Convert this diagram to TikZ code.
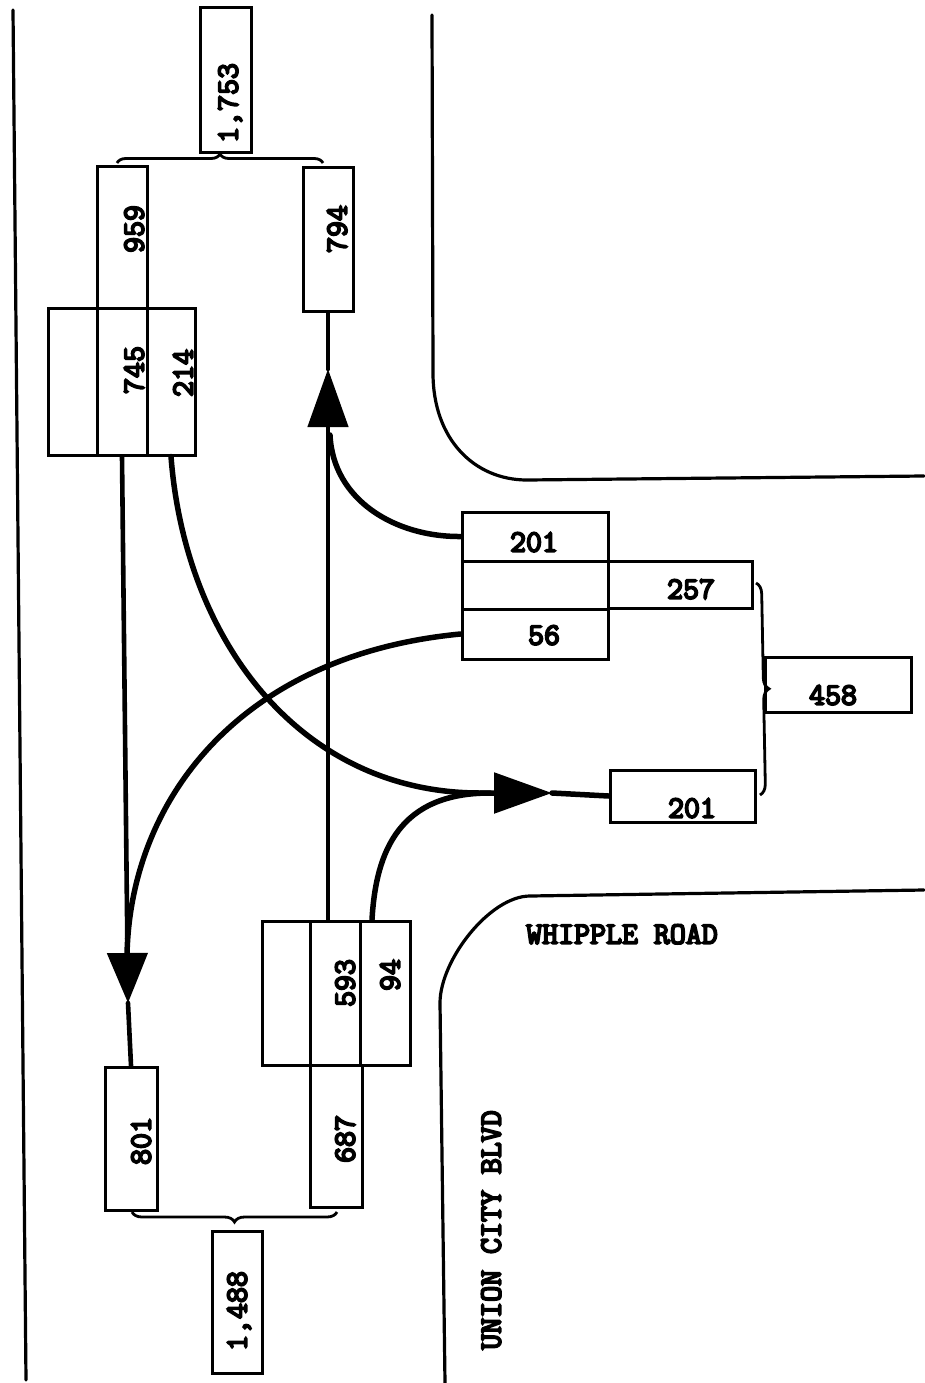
\documentclass[tikz,border=0pt]{standalone}
\usepackage{fontspec}
\newfontfamily\tw[FakeBold=6]{Latin Modern Mono}
\usetikzlibrary{arrows.meta,decorations.pathreplacing}
\tikzset{
  road/.style={line width=3.2pt, line cap=round, line join=round},
  cell/.style n args={2}{draw, line width=3pt, inner sep=0pt, minimum width=#1, minimum height=#2},
  txt/.style={font=\tw\fontsize{31}{31}\selectfont, inner sep=0pt, text depth=0pt},
  vtxt/.style={txt, rotate=90},
  flow/.style={line width=5.5pt, line cap=round},
  thru/.style={line width=4.6pt, line cap=round},
  arr/.style={-{Triangle[length=58pt,width=40pt]}},
  arrs/.style={-{Triangle[length=50pt,width=40pt]}},
  brc/.style={decorate, decoration={brace, amplitude=#1}, line width=2.8pt}
}
\begin{document}
\begin{tikzpicture}[x=1pt,y=-1pt]
\useasboundingbox (0,0) rectangle (924,1383);
% roads
\draw[road] (13,10) -- (26,1380);
\draw[road] (432,15) -- (433,373) .. controls (433,440) and (475,480) .. (527,480) -- (924,476);
\draw[road] (445,1383) -- (440,1003) .. controls (440,960) and (490,896) .. (530,896) -- (924,890);
% boxes
\node[cell={51pt}{145pt}] (n1753) at (225.5,80.5) {};
\node[cell={50pt}{141pt}] (n959) at (122,237.5) {};
\node[cell={50pt}{143pt}] (n794) at (328,239.5) {};
\node[cell={49pt}{147pt}] (nL0) at (72.5,381.5) {};
\node[cell={50pt}{147pt}] (n745) at (122,381.5) {};
\node[cell={48pt}{147pt}] (n214) at (171,381.5) {};
\node[cell={146pt}{49pt}] (n201a) at (535,536.5) {};
\node[cell={146pt}{48pt}] (nW0) at (535,585) {};
\node[cell={144pt}{47pt}] (n257) at (680,584.5) {};
\node[cell={146pt}{50pt}] (n56) at (535,634) {};
\node[cell={146pt}{55pt}] (n458) at (838,684.5) {};
\node[cell={145pt}{52pt}] (n201b) at (682.5,796) {};
\node[cell={48pt}{144pt}] (nB0) at (286,993) {};
\node[cell={50pt}{144pt}] (n593) at (335,993) {};
\node[cell={50pt}{144pt}] (n94) at (385,993) {};
\node[cell={52pt}{142pt}] (n687) at (336,1136) {};
\node[cell={52pt}{143pt}] (n801) at (131,1138.5) {};
\node[cell={50pt}{142pt}] (n1488) at (237,1302) {};
% texts
\node[vtxt] (t1753) at (228,103) {1,753};
\node[vtxt] (t959) at (134,229) {959};
\node[vtxt] (t794) at (337,229) {794};
\node[vtxt] (t745) at (134,370) {745};
\node[vtxt] (t214) at (183,373) {214};
\node[txt] (t201a) at (534,542) {201};
\node[txt] (t257) at (691,589) {257};
\node[txt] (t56) at (544,635) {56};
\node[txt] (t458) at (833,695) {458};
\node[txt] (t201b) at (692,808) {201};
\node[vtxt] (t593) at (345,983) {593};
\node[vtxt] (t94) at (390,975) {94};
\node[vtxt] (t801) at (141,1141) {801};
\node[vtxt] (t687) at (345,1139) {687};
\node[vtxt] (t1488) at (237,1311) {1,488};
\node[txt] (twr) at (622,934) {WHIPPLE ROAD};
\node[vtxt] (tucb) at (491,1230) {UNION CITY BLVD};
% merge points
\coordinate (tipA) at (328,369);
\coordinate (tipB) at (128,1003);
\coordinate (tipC) at (552,793);
% northbound through + left turn from westbound
\draw[thru,arr] (n593.north -| tipA) -- (tipA);
\draw[thru] (tipA) -- (n794.south -| tipA);
\draw[flow] (n201a.west) .. controls (395,537) and (333,500) .. (330,435);
% southbound through + left turn from westbound
\draw[thru,arrs] (n745.south) -- (tipB);
\draw[thru] (tipB) -- (n801.north);
\draw[flow] (n56.west) .. controls (240,655) and (130,800) .. (127,955);
% right turns to eastbound
\draw[flow,arr] (n214.south) .. controls (185,640) and (300,793) .. (480,793) -- (tipC);
\draw[flow] (tipC) -- (n201b.west);
\draw[flow] ([xshift=-13pt]n94.north) .. controls (376,850) and (400,793) .. (490,793);
% braces
\draw[brc=9pt] (117,163) -- (323,163);
\draw[brc=11pt] (756,583) -- (760,795);
\draw[brc=10pt] (337,1212) -- (132,1212);
\end{tikzpicture}
\end{document}
